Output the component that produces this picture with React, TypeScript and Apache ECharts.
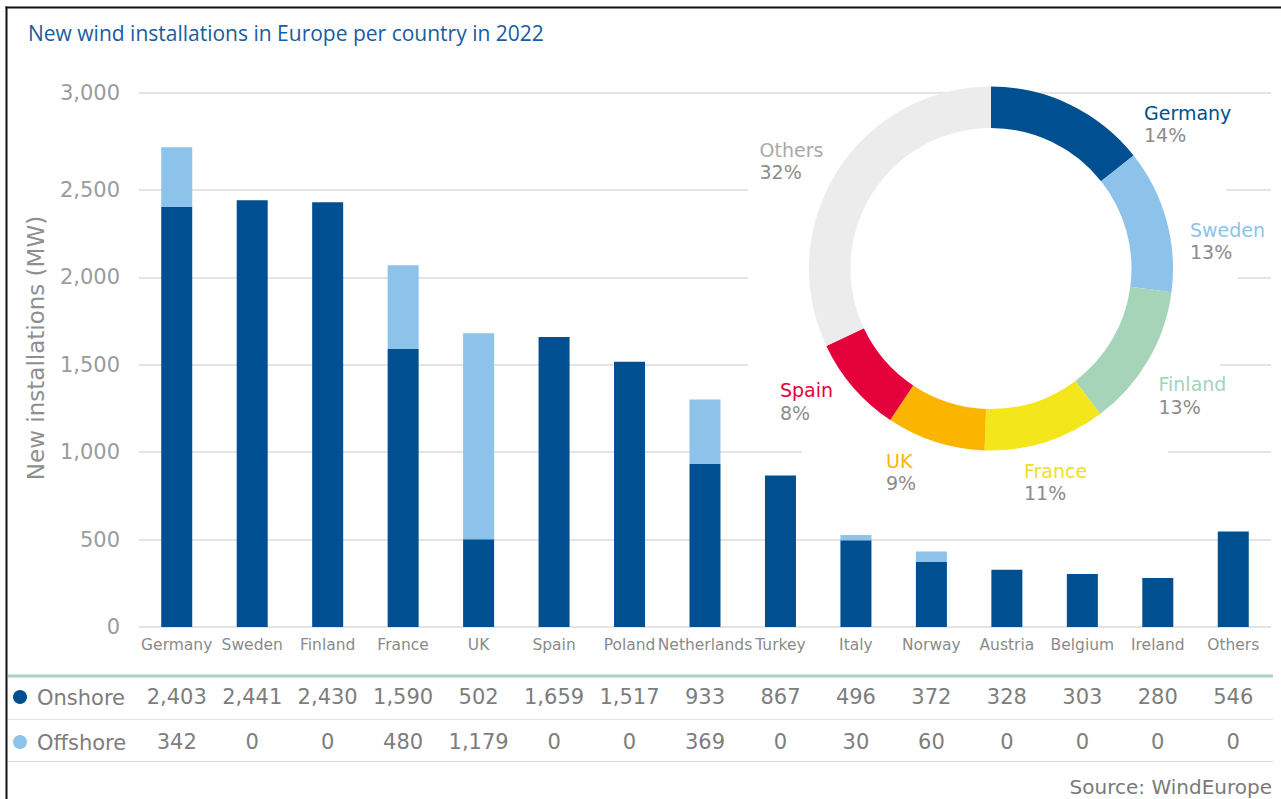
import { useEffect, useRef } from 'react';
import * as echarts from 'echarts';

// ---------- data ----------
const categories = ['Germany', 'Sweden', 'Finland', 'France', 'UK', 'Spain', 'Poland', 'Netherlands', 'Turkey', 'Italy', 'Norway', 'Austria', 'Belgium', 'Ireland', 'Others'];
const onshore = [2403, 2441, 2430, 1590, 502, 1659, 1517, 933, 867, 496, 372, 328, 303, 280, 546];
const offshore = [342, 0, 0, 480, 1179, 0, 0, 369, 0, 30, 60, 0, 0, 0, 0];
const yTickLabels = ['0', '500', '1,000', '1,500', '2,000', '2,500', '3,000'];
const shareNames = ['Germany', 'Sweden', 'Finland', 'France', 'UK', 'Spain', 'Others'];
const shareValues = [2745, 2441, 2430, 2070, 1681, 1659, 6130];
const shareLabels = ['14%', '13%', '13%', '11%', '9%', '8%', '32%'];

// ---------- styles ----------
const FONT = '"DejaVu Sans", sans-serif';
const C_ON = '#004f91';
const C_OFF = '#8dc3ea';
const shareColors = ['#004f91', '#8dc3ea', '#a5d4b9', '#f3e61a', '#fbb400', '#e4003a', '#ececec'];
const shareNameColors = ['#00508f', '#8dc3ea', '#a5d4b9', '#f0e020', '#fbb400', '#e4003a', '#a9a9a9'];
const PIE_CX = 991;
const PIE_CY = 268.5;
const labelOffsets = [[153, -144.5], [199, -27.5], [167.5, 127], [33, 213.5], [-105, 203.5], [-211, 133], [-231.5, -107.5]];
const Y_TOP = 3055; // axis top drawn slightly above the 3,000 tick as in the reference
const GRID_COLOR = '#e4e4e4';

const fmt = (v: number) => v.toLocaleString('en-US');

export default function App() {
  const ref = useRef<HTMLDivElement>(null);
  useEffect(() => {
    if (!ref.current) return;
    const chart = echarts.init(ref.current, undefined, { renderer: 'svg' });
    const rich: any = { p: { color: '#8c8c8c', fontSize: 19, fontFamily: FONT, lineHeight: 22.5 } };
    shareNameColors.forEach((c, i) => {
      rich['n' + i] = { color: c, fontSize: 19, fontFamily: FONT, lineHeight: 22.5 };
    });
    const tickCount = yTickLabels.length + 1;
    const splitColors = Array.from({ length: tickCount }, (_, i) => (i === tickCount - 2 ? 'rgba(0,0,0,0)' : GRID_COLOR));

    chart.setOption({
      animation: false,
      backgroundColor: '#ffffff',
      grid: { left: 139, right: 10, top: 93, bottom: 172, containLabel: false },
      xAxis: [
        {
          type: 'category', data: categories, position: 'bottom',
          axisLine: { show: false }, axisTick: { show: false }, splitLine: { show: false },
          axisLabel: { interval: 0, fontSize: 15.5, color: '#8a8a8a', fontFamily: FONT, margin: 18, verticalAlign: 'middle' },
        },
        {
          type: 'category', data: onshore.map(fmt), position: 'bottom', offset: 70,
          axisLine: { show: false }, axisTick: { show: false }, splitLine: { show: false },
          axisLabel: { interval: 0, fontSize: 21, color: '#7d7d7d', fontFamily: FONT, margin: 0, verticalAlign: 'middle' },
        },
        {
          type: 'category', data: offshore.map(fmt), position: 'bottom', offset: 115,
          axisLine: { show: false }, axisTick: { show: false }, splitLine: { show: false },
          axisLabel: { interval: 0, fontSize: 21, color: '#7d7d7d', fontFamily: FONT, margin: 0, verticalAlign: 'middle' },
        },
      ],
      yAxis: {
        type: 'value', min: 0, max: Y_TOP, interval: 500,
        axisLine: { show: false }, axisTick: { show: false },
        splitLine: { show: true, lineStyle: { color: splitColors, width: 2 } },
        axisLabel: {
          fontSize: 21, color: '#9b9b9b', fontFamily: FONT, margin: 19,
          formatter: (v: number) => {
            if (v === Y_TOP) return yTickLabels[yTickLabels.length - 1];
            const idx = Math.round(v / 500);
            if (idx === yTickLabels.length - 1) return '';
            return yTickLabels[idx] ?? '';
          },
        },
      },
      graphic: [
        // cover behind the donut panel
        {
          type: 'polygon', z: 1, silent: true,
          shape: { points: [[746, 96], [1226, 96], [1226, 240], [1238, 240], [1238, 322], [1220, 322], [1220, 412], [1168, 412], [1168, 506], [802, 506], [802, 412], [748, 412], [748, 96]] },
          style: { fill: '#ffffff' },
        },
        // frame
        { type: 'line', shape: { x1: 6.5, y1: 6.5, x2: 6.5, y2: 799 }, style: { stroke: '#111', lineWidth: 2 }, z: 5 },
        { type: 'line', shape: { x1: 5.5, y1: 7.5, x2: 1281, y2: 7.5 }, style: { stroke: '#111', lineWidth: 2 }, z: 5 },
        // title
        { type: 'text', x: 28, y: 33, style: { text: 'New wind installations in Europe per country in 2022', fill: '#1a5c9e', fontSize: 21, fontFamily: '"Open Sans", sans-serif', align: 'left', verticalAlign: 'middle' } },
        // y axis title
        { type: 'text', x: 36, y: 348, rotation: Math.PI / 2, style: { text: 'New installations (MW)', fill: '#8f8f8f', fontSize: 23, fontFamily: FONT, align: 'center', verticalAlign: 'middle' } },
        // table lines
        { type: 'line', shape: { x1: 8, y1: 676, x2: 1273, y2: 676 }, style: { stroke: '#a9d5bd', lineWidth: 3 } },
        { type: 'line', shape: { x1: 8, y1: 719.5, x2: 1273, y2: 719.5 }, style: { stroke: '#d6ebe0', lineWidth: 1 } },
        { type: 'line', shape: { x1: 8, y1: 761.5, x2: 1273, y2: 761.5 }, style: { stroke: '#c9e4d6', lineWidth: 1 } },
        // row headers
        { type: 'circle', shape: { cx: 20, cy: 697, r: 7 }, style: { fill: C_ON } },
        { type: 'circle', shape: { cx: 20, cy: 742, r: 7 }, style: { fill: C_OFF } },
        { type: 'text', x: 37, y: 698, style: { text: 'Onshore', fill: '#7d7d7d', fontSize: 21, fontFamily: FONT, align: 'left', verticalAlign: 'middle' } },
        { type: 'text', x: 37, y: 743, style: { text: 'Offshore', fill: '#7d7d7d', fontSize: 21, fontFamily: FONT, align: 'left', verticalAlign: 'middle' } },
        // source
        { type: 'text', x: 1272, y: 787, style: { text: 'Source: WindEurope', fill: '#7a7a7a', fontSize: 20, fontFamily: FONT, align: 'right', verticalAlign: 'middle' } },
      ],
      series: [
        {
          name: 'Onshore', type: 'bar', stack: 'total', xAxisIndex: 0, yAxisIndex: 0,
          barWidth: 31, data: onshore, itemStyle: { color: C_ON }, z: 2, silent: true,
        },
        {
          name: 'Offshore', type: 'bar', stack: 'total', xAxisIndex: 0, yAxisIndex: 0,
          barWidth: 31, data: offshore, itemStyle: { color: C_OFF }, z: 2, silent: true,
        },
        {
          name: 'Share', type: 'pie', center: [PIE_CX, PIE_CY], radius: [140.5, 182],
          startAngle: 90, clockwise: true, avoidLabelOverlap: false, silent: true, z: 3,
          data: shareNames.map((n, i) => ({ name: n, value: shareValues[i], itemStyle: { color: shareColors[i] } })),
          label: {
            show: true, position: 'outside',
            formatter: (p: any) => `{n${p.dataIndex}|${p.name}}\n{p|${shareLabels[p.dataIndex]}}`,
            rich,
          },
          labelLine: { show: false },
          labelLayout: (p: any) => {
            const o = labelOffsets[p.dataIndex];
            return { x: PIE_CX + o[0], y: PIE_CY + o[1], align: 'left', verticalAlign: 'middle' };
          },
          emphasis: { disabled: true },
        },
      ],
    });
    return () => chart.dispose();
  }, []);
  return <div ref={ref} style={{ position: 'fixed', left: 0, top: 0, width: 1281, height: 799, background: '#fff' }} />;
}
